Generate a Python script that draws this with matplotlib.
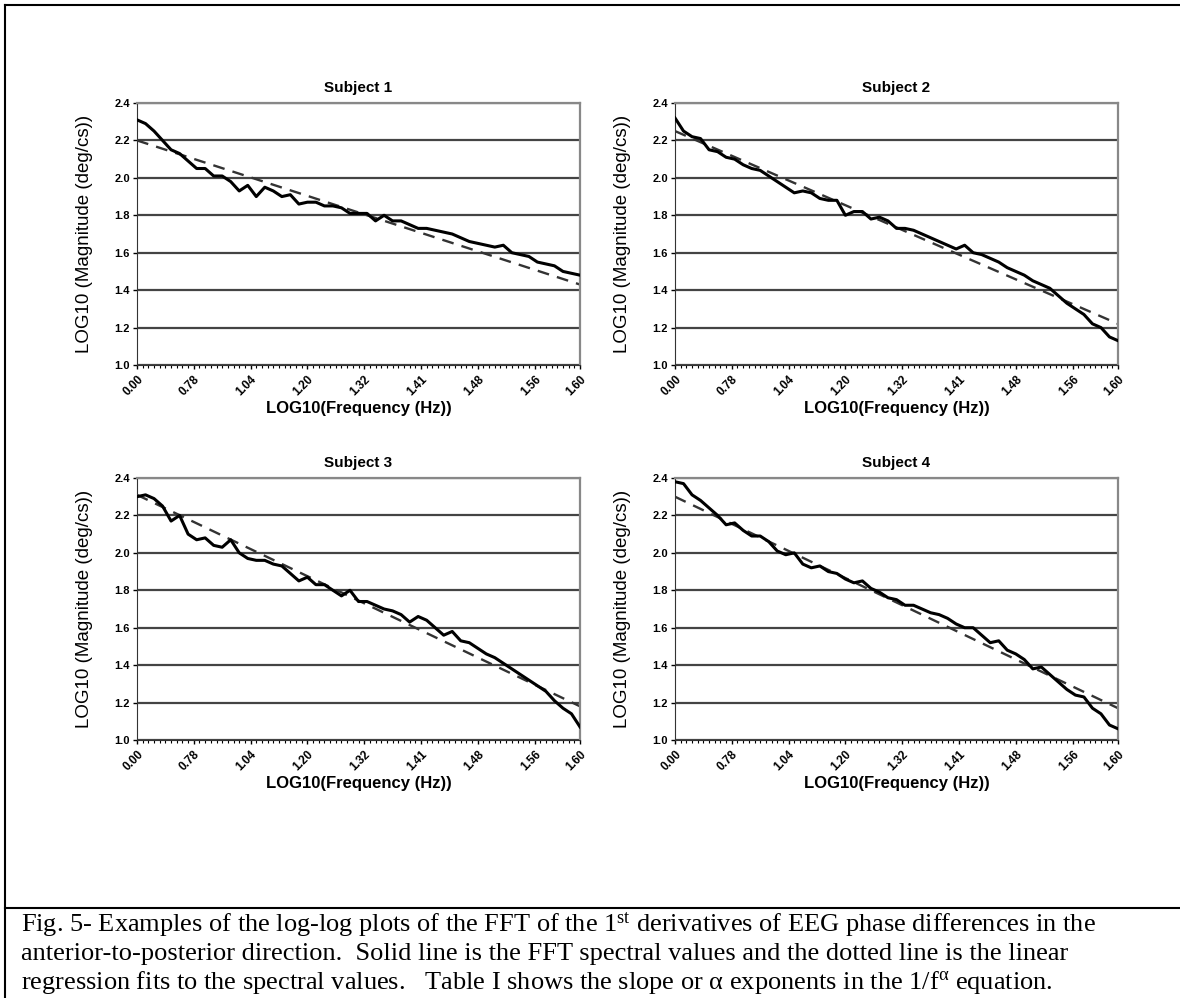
# =================
# IMPORTY
# =================
import matplotlib
matplotlib.use("Agg")
import matplotlib.pyplot as plt
from matplotlib.lines import Line2D
from matplotlib.ticker import MultipleLocator, FixedLocator
import numpy as np


# =================
# DANE
# =================
# frequency bins (category index, 0.25 Hz steps from 1 Hz to 40 Hz), values read every 3rd bin
bin_idx = np.arange(0, 157, 3)

tick_pos = [0, 20, 40, 60, 80, 100, 120, 140, 156]
tick_labels = ["0.00", "0.78", "1.04", "1.20", "1.32", "1.41", "1.48", "1.56", "1.60"]

subjects = ["Subject 1", "Subject 2", "Subject 3", "Subject 4"]

s1_mag = [2.31, 2.29, 2.25, 2.20, 2.15, 2.13, 2.09, 2.05, 2.05, 2.01,
          2.01, 1.98, 1.93, 1.96, 1.90, 1.95, 1.93, 1.90, 1.91, 1.86,
          1.87, 1.87, 1.85, 1.85, 1.84, 1.81, 1.81, 1.81, 1.77, 1.80,
          1.77, 1.77, 1.75, 1.73, 1.73, 1.72, 1.71, 1.70, 1.68, 1.66,
          1.65, 1.64, 1.63, 1.64, 1.60, 1.59, 1.58, 1.55, 1.54, 1.53,
          1.50, 1.49, 1.48]
s2_mag = [2.32, 2.25, 2.22, 2.21, 2.15, 2.14, 2.11, 2.10, 2.07, 2.05,
          2.04, 2.01, 1.98, 1.95, 1.92, 1.93, 1.92, 1.89, 1.88, 1.88,
          1.80, 1.82, 1.82, 1.78, 1.79, 1.77, 1.73, 1.73, 1.72, 1.70,
          1.68, 1.66, 1.64, 1.62, 1.64, 1.60, 1.59, 1.57, 1.55, 1.52,
          1.50, 1.48, 1.45, 1.43, 1.41, 1.37, 1.33, 1.30, 1.27, 1.22,
          1.20, 1.15, 1.13]
s3_mag = [2.30, 2.31, 2.29, 2.25, 2.17, 2.20, 2.10, 2.07, 2.08, 2.04,
          2.03, 2.07, 2.00, 1.97, 1.96, 1.96, 1.94, 1.93, 1.89, 1.85,
          1.87, 1.83, 1.83, 1.80, 1.77, 1.80, 1.74, 1.74, 1.72, 1.70,
          1.69, 1.67, 1.63, 1.66, 1.64, 1.60, 1.56, 1.58, 1.53, 1.52,
          1.49, 1.46, 1.44, 1.41, 1.38, 1.35, 1.32, 1.29, 1.26, 1.21,
          1.17, 1.14, 1.07]
s4_mag = [2.38, 2.37, 2.31, 2.28, 2.24, 2.20, 2.15, 2.16, 2.12, 2.09,
          2.09, 2.06, 2.01, 1.99, 2.00, 1.94, 1.92, 1.93, 1.90, 1.89,
          1.86, 1.84, 1.85, 1.81, 1.79, 1.76, 1.75, 1.72, 1.72, 1.70,
          1.68, 1.67, 1.65, 1.62, 1.60, 1.60, 1.56, 1.52, 1.53, 1.48,
          1.46, 1.43, 1.38, 1.39, 1.35, 1.31, 1.27, 1.24, 1.23, 1.17,
          1.14, 1.08, 1.06]

# linear regression fits (value at first and last bin)
fit_ends = [(2.20, 1.43), (2.25, 1.22), (2.31, 1.18), (2.30, 1.17)]

caption = [
    "Fig. 5- Examples of the log-log plots of the FFT of the 1$^{\\mathrm{st}}$ derivatives of EEG phase differences in the",
    "anterior-to-posterior direction.  Solid line is the FFT spectral values and the dotted line is the linear",
    "regression fits to the spectral values.   Table I shows the slope or \u03b1 exponents in the 1/f$^{\\alpha}$ equation.",
]


# =================
# STYL WYKRESÓW
# =================
plt.rcParams["font.family"] = ["Liberation Sans", "DejaVu Sans"]
plt.rcParams["mathtext.fontset"] = "custom"
plt.rcParams["mathtext.rm"] = "Liberation Serif"
plt.rcParams["mathtext.it"] = "Liberation Serif"


def styl(ax, title):
    ax.set_title(title, fontsize=11, fontweight="bold", pad=8)
    ax.set_xlabel("LOG10(Frequency (Hz))", fontsize=12, fontweight="bold", labelpad=2)
    ax.set_ylabel("LOG10 (Magnitude (deg/cs))", fontsize=13.5)
    ax.yaxis.set_label_coords(-0.1, 0.5)

    ax.set_xlim(0, 156)
    ax.set_ylim(1.0, 2.4)
    ax.set_yticks(np.arange(1.0, 2.41, 0.2))
    ax.set_yticklabels([f"{v:.1f}" for v in np.arange(1.0, 2.41, 0.2)],
                       fontsize=8, fontweight="bold")
    ax.xaxis.set_major_locator(FixedLocator(tick_pos))
    ax.set_xticklabels(tick_labels, rotation=45, ha="right", va="top",
                       rotation_mode="anchor", fontsize=8.5, fontweight="bold")
    ax.xaxis.set_minor_locator(MultipleLocator(2))
    ax.tick_params(axis="x", which="major", length=3, width=1, pad=3)
    ax.tick_params(axis="x", which="minor", length=2, width=0.8)
    ax.tick_params(axis="y", length=3, width=1, pad=2)

    ax.grid(True, axis="y", color="#444444", linewidth=1.6)
    ax.set_axisbelow(True)
    for side in ["top", "right"]:
        ax.spines[side].set_color("#888888")
        ax.spines[side].set_linewidth(1.6)
    ax.spines["left"].set_color("#333333")
    ax.spines["bottom"].set_color("#333333")


# =================
# WYKRESY
# =================
fig = plt.figure(figsize=(11.8, 9.98), dpi=100)

W, H = 1180, 998
boxes = [(137, 103), (675, 103), (137, 478), (675, 478)]
pw, ph = 443, 262

series = [s1_mag, s2_mag, s3_mag, s4_mag]

for (x0, y0), name, mag, (f0, f1) in zip(boxes, subjects, series, fit_ends):
    ax = fig.add_axes([x0 / W, 1 - (y0 + ph) / H, pw / W, ph / H])
    ax.plot(bin_idx, mag, color="black", linewidth=2.2, zorder=3)
    ax.plot([bin_idx[0], bin_idx[-1]], [f0, f1], color="#333333",
            linewidth=1.7, dashes=(5, 3.5), zorder=2)
    styl(ax, name)


# =================
# RAMKA I PODPIS
# =================
fig.add_artist(Line2D([5 / W, 1], [1 - 5 / H, 1 - 5 / H], color="black", linewidth=1.5))
fig.add_artist(Line2D([5 / W, 5 / W], [0, 1 - 5 / H], color="black", linewidth=1.5))
fig.add_artist(Line2D([5 / W, 1], [1 - 908 / H, 1 - 908 / H], color="black", linewidth=1.5))

for i, line in enumerate(caption):
    fig.text(21 / W, 1 - (925 + i * 29) / H, line, fontsize=19,
             family="Liberation Serif", va="center", ha="left")

fig.savefig("out.png", dpi=100)
